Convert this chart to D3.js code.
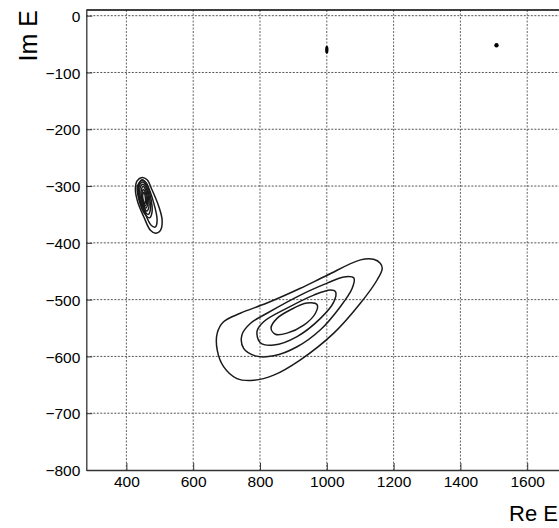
<!DOCTYPE html>
<html><head><meta charset="utf-8">
<script src="https://cdn.jsdelivr.net/npm/d3@7"></script>
<style>
html,body{margin:0;padding:0;background:#fff;}
text{font-family:"Liberation Sans",Arial,Helvetica,sans-serif;fill:#000;}
</style></head><body>
<svg id="chart" width="559" height="528"></svg>
<script>
// ---- data (Re E, Im E) ----
const xTicks = [400, 600, 800, 1000, 1200, 1400, 1600];
const yTicks = [0, -100, -200, -300, -400, -500, -600, -700, -800];
const xTitle = "Re E";
const yTitle = "Im E";

// big resonance region contours (outer -> inner)
const bigOuter = [[1160,-436],[1140,-429],[1101,-430],[1001,-457],[921,-480],[821,-506],[741,-524],[691,-539],[672,-559],[672,-589],[691,-618],[731,-639],[781,-642],[841,-633],[921,-606],[1021,-559],[1101,-506],[1151,-465],[1166,-445]];
const bigRing2 = [[1081,-462],[1051,-460],[1001,-471],[921,-492],[821,-524],[771,-542],[746,-562],[751,-586],[786,-599],[841,-599],[911,-583],[981,-553],[1041,-512],[1076,-480]];
const bigRing3 = [[1026,-486],[1011,-483],[961,-492],[881,-515],[811,-539],[791,-556],[801,-576],[841,-580],[911,-565],[981,-533],[1021,-504]];
const bigRing4 = [[971,-509],[941,-506],[891,-518],[851,-533],[833,-550],[846,-561],[881,-559],[931,-545],[966,-524]];

// small resonance contours (outer -> inner)
const smallRing1 = [[447,-285],[462,-289],[477,-307],[497,-336],[507,-360],[502,-378],[487,-383],[472,-378],[452,-354],[434,-328],[427,-307],[432,-291]];
const smallRing2 = [[447,-289],[462,-298],[482,-330],[492,-360],[487,-372],[474,-369],[454,-345],[437,-319],[437,-298]];
const smallRing3 = [[447,-290],[460,-295],[472,-318],[477,-345],[469,-356],[455,-349],[438,-325],[433,-300]];
const smallRing4 = [[448,-293],[459,-299],[469,-320],[472,-341],[465,-350],[453,-342],[440,-322],[437,-303]];
const smallRing5 = [[449,-297],[458,-302],[466,-320],[467,-338],[461,-344],[453,-338],[442,-320],[440,-306]];
const smallRing6 = [[450,-301],[457,-306],[463,-321],[463,-334],[458,-339],[452,-334],[445,-320],[444,-309]];
const smallRing7 = [[451,-306],[456,-310],[460,-322],[460,-331],[456,-335],[452,-331],[447,-320],[447,-312]];
const smallRing8 = [[452,-311],[455,-314],[457,-322],[457,-328],[455,-331],[452,-328],[449,-320],[449,-315]];

// tiny poles
const poleRe = [1000, 1508];
const poleIm = [-60, -52];
const poleRx = [5, 6.5];
const poleRy = [7, 4];

const contours = [bigOuter, bigRing2, bigRing3, bigRing4,
  smallRing1, smallRing2, smallRing3, smallRing4, smallRing5, smallRing6, smallRing7, smallRing8];

// ---- layout ----
const svg = d3.select("#chart");
const x = d3.scaleLinear().domain([280, 1720]).range([86.3, 567.3]);
const y = d3.scaleLinear().domain([-800, 10]).range([470, 10]);
const pL = x.range()[0], pR = x.range()[1], pT = y.range()[1], pB = y.range()[0];

// grid
const grid = svg.append("g");
grid.selectAll("line.vx").data(xTicks).join("line")
  .attr("x1", d => x(d)).attr("x2", d => x(d))
  .attr("y1", pT).attr("y2", pB)
  .attr("stroke", "#666").attr("stroke-width", 1).attr("stroke-dasharray", "2,1.5");
grid.selectAll("line.hy").data(yTicks.filter(d => d > -800)).join("line")
  .attr("x1", pL).attr("x2", pR)
  .attr("y1", d => y(d)).attr("y2", d => y(d))
  .attr("stroke", "#555").attr("stroke-width", 1).attr("stroke-dasharray", "2,1.5");

// axes
const tickFont = "DejaVu Sans, Verdana, sans-serif";
const xAxis = d3.axisBottom(x).tickValues(xTicks).tickSizeInner(-7).tickSizeOuter(0).tickPadding(6)
  .tickFormat(d3.format("d"));
const gx = svg.append("g").attr("transform", `translate(0,${pB})`).call(xAxis);
const yAxis = d3.axisLeft(y).tickValues(yTicks).tickSizeInner(-6).tickSizeOuter(0).tickPadding(6)
  .tickFormat(d => d < 0 ? "\u2212" + Math.abs(d) : String(d));
const gy = svg.append("g").attr("transform", `translate(${pL},0)`).call(yAxis);
[gx, gy].forEach(g => {
  g.select(".domain").attr("stroke", "#333").attr("stroke-width", 1.3);
  g.selectAll(".tick line").attr("stroke", "#333");
  g.selectAll("text").attr("font-size", 15.5).attr("font-family", tickFont).attr("fill", "#000");
});
gy.selectAll(".tick text").attr("dy", "0.36em");
// top frame
svg.append("line").attr("x1", pL).attr("x2", pR).attr("y1", pT).attr("y2", pT)
  .attr("stroke", "#000").attr("stroke-width", 1.5);

// contours
const line = d3.line().x(d => x(d[0])).y(d => y(d[1])).curve(d3.curveCatmullRomClosed.alpha(0.5));
svg.append("g").selectAll("path").data(contours).join("path")
  .attr("d", line).attr("fill", "none").attr("stroke", "#1a1a1a").attr("stroke-width", 1.5);

// poles
svg.append("g").selectAll("ellipse").data(poleRe).join("ellipse")
  .attr("cx", (d, i) => x(d)).attr("cy", (d, i) => y(poleIm[i]))
  .attr("rx", (d, i) => x(d + poleRx[i]) - x(d))
  .attr("ry", (d, i) => y(poleIm[i]) - y(poleIm[i] + poleRy[i]))
  .attr("fill", "#000");

// titles
svg.append("text").attr("x", 558).attr("y", 521).attr("text-anchor", "end")
  .attr("font-size", 22).text(xTitle);
svg.append("text").attr("transform", "translate(37,10) rotate(-90)").attr("text-anchor", "end")
  .attr("font-size", 25).text(yTitle);
</script>
</body></html>
